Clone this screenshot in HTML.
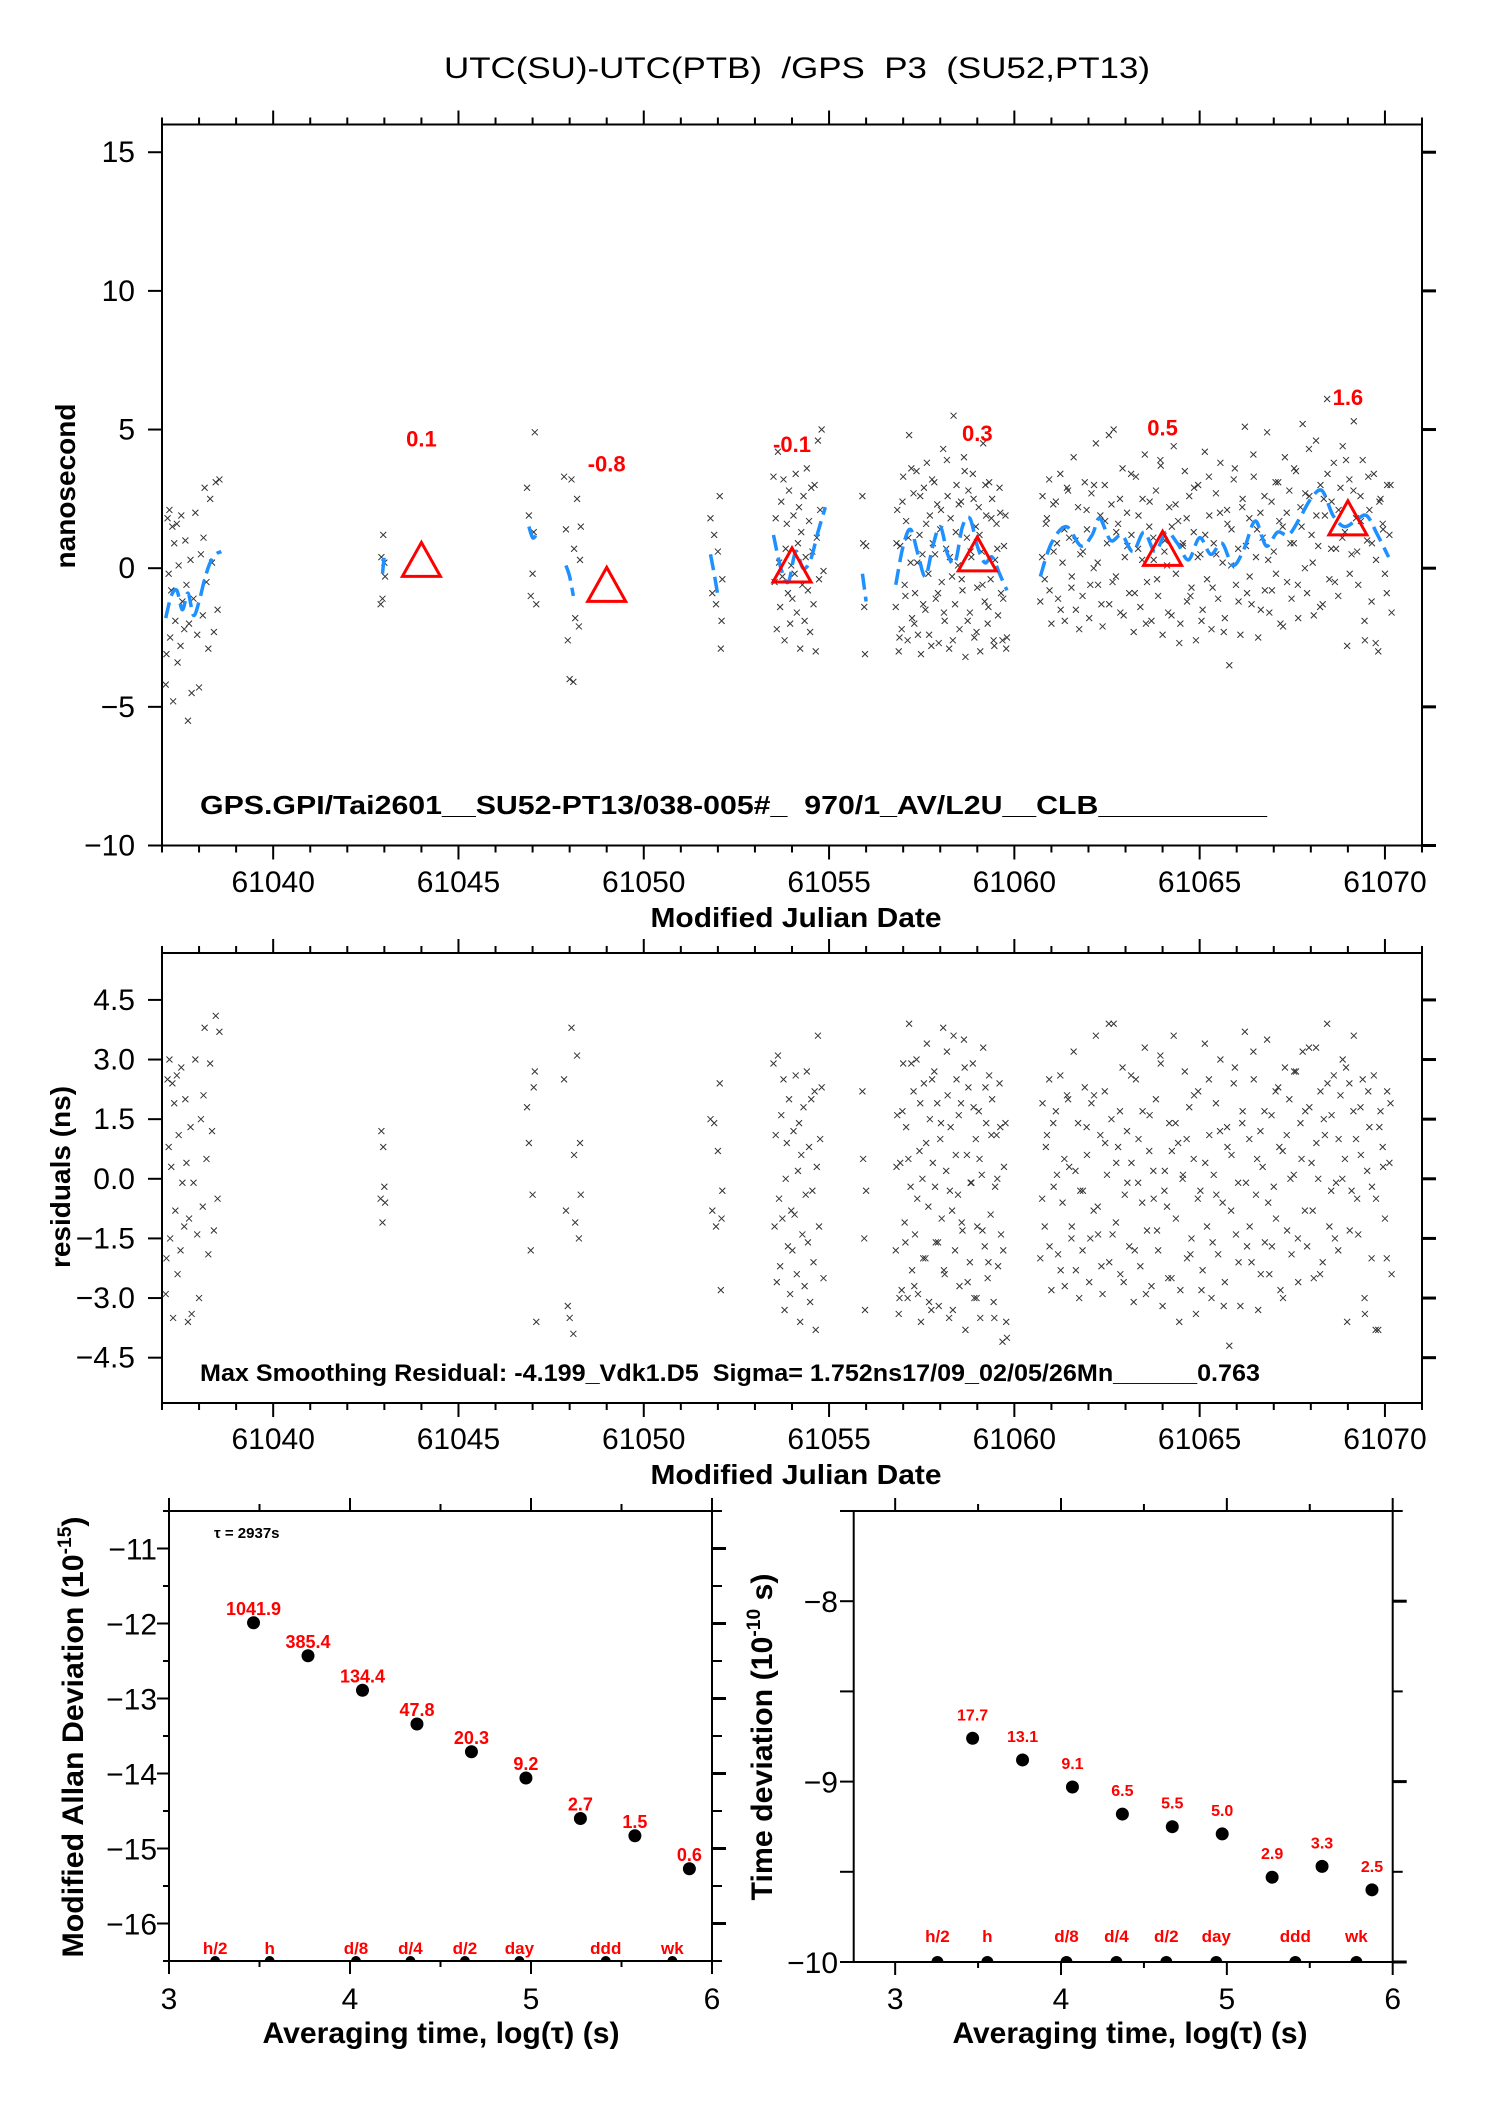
<!DOCTYPE html>
<html><head><meta charset="utf-8"><title>UTC(SU)-UTC(PTB) GPS P3</title>
<style>
html,body{margin:0;padding:0;background:#fff;}
svg{display:block;font-family:"Liberation Sans",Arial,sans-serif;}
</style></head>
<body>
<svg id="c" xmlns="http://www.w3.org/2000/svg" width="1488" height="2105" viewBox="0 0 1488 2105">
<rect x="0" y="0" width="1488" height="2105" fill="#fff"/>
<defs>
<clipPath id="clipL"><rect x="169" y="1511" width="543" height="450"/></clipPath>
<clipPath id="clipR"><rect x="853.7" y="1511" width="539" height="451"/></clipPath>
</defs>
<text x="797" y="78" font-size="30" text-anchor="middle" textLength="706" lengthAdjust="spacingAndGlyphs" xml:space="preserve">UTC(SU)-UTC(PTB)  /GPS  P3  (SU52,PT13)</text>
<text transform="translate(75,486) rotate(-90)" font-size="28" font-weight="bold" text-anchor="middle">nanosecond</text>
<text x="796" y="927" font-size="28" font-weight="bold" text-anchor="middle" textLength="291" lengthAdjust="spacingAndGlyphs">Modified Julian Date</text>
<text x="200" y="814" font-size="26" font-weight="bold" textLength="1067" lengthAdjust="spacingAndGlyphs" xml:space="preserve">GPS.GPI/Tai2601__SU52-PT13/038-005#_  970/1_AV/L2U__CLB__________</text>
<text transform="translate(70,1177) rotate(-90)" font-size="28" font-weight="bold" text-anchor="middle">residuals (ns)</text>
<text x="796" y="1484" font-size="28" font-weight="bold" text-anchor="middle" textLength="291" lengthAdjust="spacingAndGlyphs">Modified Julian Date</text>
<text x="200" y="1381" font-size="24" font-weight="bold" textLength="1060" lengthAdjust="spacingAndGlyphs" xml:space="preserve">Max Smoothing Residual: -4.199_Vdk1.D5  Sigma= 1.752ns17/09_02/05/26Mn______0.763</text>
<text transform="translate(83,1737) rotate(-90)" font-size="30" font-weight="bold" text-anchor="middle" textLength="441" lengthAdjust="spacingAndGlyphs">Modified Allan Deviation (10<tspan font-size="19" dy="-12">-15</tspan><tspan dy="12">)</tspan></text>
<text transform="translate(772,1737) rotate(-90)" font-size="30" font-weight="bold" text-anchor="middle" textLength="327" lengthAdjust="spacingAndGlyphs">Time deviation (10<tspan font-size="19" dy="-12">-10</tspan><tspan dy="12"> s)</tspan></text>
<text x="441" y="2043" font-size="30" font-weight="bold" text-anchor="middle" textLength="357" lengthAdjust="spacingAndGlyphs">Averaging time, log(τ) (s)</text>
<text x="1130" y="2043" font-size="30" font-weight="bold" text-anchor="middle" textLength="355" lengthAdjust="spacingAndGlyphs">Averaging time, log(τ) (s)</text>
<text x="214" y="1538" font-size="15" font-weight="bold">τ = 2937s</text>
</svg>
<script>
// ---------------- DATA ----------------
const MJD0 = 61000;
const mjdA=[37.10,37.12,37.15,37.18,37.20,37.22,37.25,37.28,37.30,37.33,37.36,37.40,37.42,37.45,37.50,37.52,37.55,37.60,37.63,37.66,37.70,37.73,37.77,37.80,37.85,37.90,37.95,38.00,38.05,38.10,38.12,38.15,38.20,38.25,38.30,38.35,38.40,38.45,38.50,38.55];
const nsA=[-4.2,-3.1,1.8,-0.2,2.1,-2.5,-0.8,1.5,-4.8,0.9,-1.9,1.6,-3.4,0.1,-2.8,1.9,-1.2,-2.2,1.0,-0.6,-5.5,-2.0,0.3,-4.5,-1.1,2.0,-2.4,-4.3,0.5,-1.7,1.1,2.9,-0.5,-2.9,2.5,0.2,-2.3,3.1,-1.5,3.2];
const resA=[-2.9,-2.0,2.5,0.8,3.0,-1.5,0.3,2.4,-3.5,1.9,-0.8,2.6,-2.4,1.1,-1.8,2.8,-0.1,-1.2,2.0,0.4,-3.6,-1.0,1.3,-3.4,-0.1,3.0,-1.4,-3.0,1.5,-0.7,2.1,3.8,0.5,-1.9,2.9,1.2,-1.3,4.1,-0.5,3.7];
const mjdB=[42.90,42.92,42.95,42.97,43.00,43.02];
const nsB=[-1.3,0.4,-1.1,1.2,0.2,-0.3];
const resB=[-0.5,1.2,-1.1,0.8,-0.2,-0.6];
const mjdC=[46.85,46.90,46.95,47.00,47.03,47.06,47.10];
const nsC=[2.9,1.9,-1.0,-0.2,1.3,4.9,-1.3];
const resC=[1.8,0.9,-1.8,-0.4,2.3,2.7,-3.6];
const mjdD=[47.85,47.90,47.95,48.00,48.05,48.10,48.12,48.15,48.20,48.25,48.28,48.30];
const nsD=[3.3,1.4,-2.6,-4.0,3.2,-4.1,0.7,-1.8,2.5,-2.1,0.3,1.5];
const resD=[2.5,-0.8,-3.2,-3.5,3.8,-3.9,0.6,-1.1,3.1,-1.5,0.9,-0.4];
const mjdE=[51.80,51.85,51.90,51.95,52.00,52.05,52.08,52.10,52.12];
const nsE=[1.8,-0.9,1.2,-1.3,0.6,2.6,-2.9,-1.9,-0.4];
const resE=[1.5,-0.8,1.4,-1.2,0.7,2.4,-2.8,-1.0,-0.3];
const mjdF=[53.50,53.53,53.56,53.59,53.62,53.65,53.68,53.71,53.74,53.77,53.80,53.83,53.86,53.89,53.92,53.95,53.98,54.01,54.04,54.07,54.10,54.13,54.16,54.19,54.22,54.25,54.28,54.31,54.34,54.37,54.40,54.43,54.46,54.49,54.52,54.55,54.58,54.61,54.64,54.67,54.70,54.73,54.76,54.80,54.85];
const nsF=[3.3,-0.5,1.8,-2.2,4.2,0.2,-1.4,2.4,-0.3,3.2,-2.6,0.7,1.6,-0.9,2.8,-2.0,0.1,-1.1,1.9,-0.2,3.4,-1.6,0.9,2.2,-2.9,1.3,-0.6,2.6,-1.9,0.4,3.6,-0.8,1.7,-2.3,2.9,0.6,-1.3,3.0,-3.0,1.1,4.6,-0.4,2.1,5.0,-0.1];
const resF=[2.9,-1.2,1.1,-2.6,3.1,-0.5,-2.2,1.6,-1.0,2.5,-3.3,0.0,0.9,-1.7,2.0,-2.9,-0.8,-1.8,1.2,-0.9,2.6,-2.4,0.2,1.4,-3.6,0.6,-1.4,1.8,-2.7,-0.4,2.7,-1.6,0.8,-3.1,2.0,-0.3,-2.1,2.2,-3.8,0.3,3.6,-1.2,1.0,2.3,-2.5];
const mjdG=[55.90,55.92,55.95,55.97,56.00];
const nsG=[2.6,0.9,-1.4,-3.1,0.8];
const resG=[2.2,0.5,-1.5,-3.3,-0.3];
const mjdH=[56.80,56.84,56.88,56.92,56.96,57.00,57.04,57.08,57.12,57.16,57.20,57.24,57.28,57.32,57.36,57.40,57.44,57.48,57.52,57.56,57.60,57.64,57.68,57.72,57.76,57.80,57.84,57.88,57.92,57.96,58.00,58.04,58.08,58.12,58.16,58.20,58.24,58.28,58.32,58.36,58.40,58.44,58.48,58.52,58.56,58.60,58.64,58.68,58.72,58.76,58.80,58.84,58.88,58.92,58.96,59.00,59.04,59.08,59.12,59.16,59.20,59.24,59.28,59.32,59.36,59.40,59.44,59.48,59.52,59.56,59.60,59.64,59.68,59.72,59.76,59.80];
const nsH=[-1.4,2.1,-3.0,0.8,-2.2,3.3,-0.6,1.7,-2.6,4.8,0.2,-1.8,2.7,-0.9,3.5,-2.4,1.2,-3.1,0.5,2.9,-1.5,3.8,-0.2,1.9,-2.8,0.9,3.1,-1.1,2.3,-2.7,1.4,-0.5,4.3,-1.9,0.7,2.6,-2.9,1.8,-0.3,5.5,-1.3,3.0,0.1,-2.2,2.4,-0.8,4.0,-3.2,1.1,2.8,-1.6,0.4,3.4,-2.5,1.5,-0.7,2.2,-3.0,0.6,4.5,-1.2,1.9,-2.0,3.1,-0.4,2.5,-2.6,0.3,1.6,-1.7,2.9,-0.9,-2.6,0.8,1.9,-2.5];
const resH=[-1.8,1.6,-3.4,0.4,-2.8,2.9,-1.1,1.3,-3.0,3.9,-0.2,-2.3,2.2,-1.4,3.0,-2.9,0.7,-3.6,0.0,2.4,-2.0,3.4,-0.7,1.5,-3.3,0.4,2.7,-1.6,1.9,-3.2,1.0,-1.0,3.8,-2.4,0.2,2.1,-3.5,1.3,-0.8,3.6,-1.8,2.5,-0.4,-2.7,1.9,-1.3,3.5,-3.8,0.6,2.3,-2.1,-0.1,2.9,-3.0,1.0,-1.2,1.7,-3.5,0.1,3.3,-1.7,1.4,-2.5,2.6,-0.9,2.0,-3.1,-0.2,1.1,-2.2,2.4,-1.4,-4.1,0.3,1.4,-4.0];
const mjdH2=[56.82,56.90,56.98,57.06,57.14,57.22,57.30,57.38,57.46,57.54,57.62,57.70,57.78,57.86,57.94,58.02,58.10,58.18,58.26,58.34,58.42,58.50,58.58,58.66,58.74,58.82,58.90,58.98,59.06,59.14,59.22,59.30,59.38,59.46,59.54,59.62,59.70,59.78];
const nsH2=[0.9,-2.5,2.4,-1.0,1.1,3.6,-2.0,0.2,2.6,-1.3,1.6,-2.4,3.2,0.5,-0.9,2.1,-1.6,3.9,0.4,-2.6,1.3,2.3,-0.4,3.5,-1.9,0.6,2.5,-2.3,1.2,-0.6,3.0,-1.4,1.8,-2.8,0.7,2.0,-1.1,-2.9];
const resH2=[0.3,-3.0,1.7,-1.6,0.5,2.9,-2.7,-0.5,1.9,-2.0,0.9,-3.1,2.5,-0.2,-1.6,1.4,-2.3,3.2,-0.3,-3.3,0.6,1.6,-1.1,2.8,-2.6,-0.1,1.8,-3.0,0.5,-1.3,2.3,-2.1,1.1,-3.5,0.0,1.3,-1.8,-3.6];
const mjdI=[60.70,60.76,60.82,60.88,60.94,61.00,61.06,61.12,61.18,61.24,61.30,61.36,61.42,61.48,61.54,61.60,61.66,61.72,61.78,61.84,61.90,61.96,62.02,62.08,62.14,62.20,62.26,62.32,62.38,62.44,62.50,62.56,62.62,62.68,62.74,62.80,62.86,62.92,62.98,63.04,63.10,63.16,63.22,63.28,63.34,63.40,63.46,63.52,63.58,63.64,63.70,63.76,63.82,63.88,63.94,64.00,64.06,64.12,64.18,64.24,64.30,64.36,64.42,64.48,64.54,64.60,64.66,64.72,64.78,64.84,64.90,64.96,65.02,65.08,65.14,65.20,65.26,65.32,65.38,65.44,65.50,65.56,65.62,65.68,65.74,65.80,65.86,65.92,65.98,66.04,66.10,66.16,66.22,66.28,66.34,66.40,66.46,66.52,66.58,66.64,66.70,66.76,66.82,66.88,66.94,67.00,67.06,67.12,67.18,67.24,67.30,67.36,67.42,67.48,67.54,67.60,67.66,67.72,67.78,67.84,67.90,67.96,68.02,68.08,68.14,68.20,68.26,68.32,68.38,68.44,68.50,68.56,68.62,68.68,68.74,68.80,68.86,68.92,68.98,69.04,69.10,69.16,69.22,69.28,69.34,69.40,69.46,69.52,69.58,69.64,69.70,69.76,69.82,69.88,69.94,70.00,70.06,70.12,70.18];
const nsI=[-1.2,2.6,-0.4,1.8,3.2,-2.0,0.6,2.4,-1.1,3.4,0.2,-1.9,2.9,1.1,-0.7,4.0,-1.5,2.2,0.5,-1.0,
3.1,1.4,-1.8,2.7,0.0,4.5,-0.6,1.9,-2.1,3.0,0.9,-1.3,2.3,5.0,-0.3,1.6,-1.6,3.6,0.4,2.0,
-0.9,1.2,-2.3,3.3,0.7,-1.4,2.5,4.1,-0.5,1.5,-1.9,0.3,2.8,-1.0,3.9,-2.4,1.0,0.1,2.2,-1.7,
4.4,-0.2,1.7,-2.0,0.8,3.5,-1.2,2.6,-0.7,1.3,-2.6,3.0,0.5,-1.5,4.2,-0.4,1.9,-2.2,0.9,2.7,
-1.1,3.8,0.2,-1.8,2.1,-3.5,1.4,3.2,-0.6,0.7,-2.4,2.5,5.1,-0.9,1.8,-1.3,3.3,0.4,-2.5,2.0,
1.1,-0.8,4.9,-1.6,2.4,0.6,-0.2,3.1,-2.0,1.5,4.0,-0.5,2.8,-1.1,0.9,3.5,-1.8,2.2,5.2,0.0,
-0.9,2.6,1.2,-1.7,4.6,0.8,3.0,-1.3,1.9,6.1,-0.4,2.4,3.8,0.7,-1.0,2.9,4.4,1.3,-2.8,3.2,
0.5,5.3,1.8,-0.6,2.6,3.9,-2.6,1.0,2.1,-1.2,3.4,0.3,-3.0,2.5,1.6,-0.2,3.0,1.2,-1.6];
const resI=[-2.0,1.9,-1.2,1.1,2.5,-2.8,-0.2,1.7,-1.9,2.6,-0.6,-2.7,2.1,0.3,-1.5,3.2,-2.3,1.4,-0.3,-1.8,
2.3,0.6,-2.6,1.9,-0.8,3.6,-1.4,1.1,-2.9,2.2,0.1,-2.1,1.5,3.9,-1.1,0.8,-2.4,2.8,-0.4,1.2,
-1.7,0.4,-3.1,2.5,-0.1,-2.2,1.7,3.3,-1.3,0.7,-2.7,-0.5,2.0,-1.8,3.1,-3.2,0.2,-0.7,1.4,-2.5,
3.6,-1.0,0.9,-2.8,0.0,2.7,-2.0,1.8,-1.5,0.5,-3.4,2.2,-0.3,-2.3,3.4,-1.2,1.1,-3.0,0.1,1.9,
-1.9,3.0,-0.6,-2.6,1.3,-4.2,0.6,2.4,-1.4,-0.1,-3.2,1.7,3.7,-1.7,1.0,-2.1,2.5,-0.4,-3.3,1.2,
0.3,-1.6,3.5,-2.4,1.6,-0.2,-1.0,2.3,-2.8,0.7,2.8,-1.3,2.0,-1.9,0.1,2.7,-2.6,1.4,3.2,-0.8,
-1.7,1.8,0.4,-2.5,3.3,0.0,2.2,-2.1,1.1,3.9,-1.2,1.6,2.6,-0.1,-1.8,2.1,3.0,0.5,-3.6,2.4,
-0.3,3.6,1.0,-1.4,1.8,2.5,-3.4,0.2,1.3,-2.0,2.6,-0.5,-3.8,1.7,0.8,-1.0,2.2,0.4,-2.4];
const mjdI2=[60.75,60.85,60.95,61.05,61.15,61.25,61.35,61.45,61.55,61.65,61.75,61.85,61.95,62.05,62.15,62.25,62.35,62.45,62.55,62.65,62.75,62.85,62.95,63.05,63.15,63.25,63.35,63.45,63.55,63.65,63.75,63.85,63.95,64.05,64.15,64.25,64.35,64.45,64.55,64.65,64.75,64.85,64.95,65.05,65.15,65.25,65.35,65.45,65.55,65.65,65.75,65.85,65.95,66.05,66.15,66.25,66.35,66.45,66.55,66.65,66.75,66.85,66.95,67.05,67.15,67.25,67.35,67.45,67.55,67.65,67.75,67.85,67.95,68.05,68.15,68.25,68.35,68.45,68.55,68.65,68.75,68.85,68.95,69.05,69.15,69.25,69.35,69.45,69.55,69.65,69.75,69.85,69.95,70.05,70.15];
const nsI2=[0.4,1.6,-0.8,2.3,0.9,-1.5,1.4,2.8,-0.3,1.0,
-2.2,0.6,2.1,-0.6,3.0,0.2,-1.3,1.7,4.8,-0.5,
1.3,2.5,-1.7,0.8,3.4,-0.9,1.9,0.3,-2.0,2.4,
1.1,-0.4,3.7,0.6,-1.6,1.5,2.3,-2.7,0.9,1.8,
-1.0,2.9,0.4,-1.9,1.2,3.3,-0.7,0.5,2.0,-2.3,
1.6,0.1,3.6,-1.2,2.2,0.8,-0.3,4.1,1.4,-1.5,
2.6,0.3,-0.8,3.1,1.7,-2.1,2.0,0.9,3.6,-0.6,
1.5,2.7,4.3,0.2,1.9,-1.4,2.5,3.4,0.7,-0.5,
2.1,1.1,3.9,-0.2,2.8,0.6,1.7,-1.9,3.3,0.9,
-2.7,2.4,1.4,-0.9,3.0];
const resI2=[-0.5,0.8,-1.7,1.4,0.1,-2.3,0.5,2.0,-1.2,0.2,
-3.0,-0.3,1.3,-1.5,2.1,-0.7,-2.2,0.9,3.9,-1.4,
0.4,1.7,-2.6,-0.1,2.6,-1.8,1.0,-0.6,-2.9,1.6,
0.2,-1.3,2.9,-0.3,-2.5,0.7,1.4,-3.6,0.1,1.0,
-1.9,2.1,-0.5,-2.8,0.4,2.5,-1.6,-0.4,1.2,-3.2,
0.8,-0.8,2.8,-2.1,1.4,-0.1,-1.2,3.2,0.5,-2.4,
1.7,-0.6,-1.7,2.2,0.8,-3.0,1.1,0.0,2.7,-1.5,
0.5,1.7,3.3,-0.8,0.9,-2.4,1.5,2.4,-0.3,-1.5,
1.0,0.0,2.8,-1.3,1.7,-0.5,0.6,-3.0,2.2,-0.2,
-3.8,1.3,0.3,-2.0,1.9];
const clusters=[[mjdA,nsA,resA],[mjdB,nsB,resB],[mjdC,nsC,resC],[mjdD,nsD,resD],[mjdE,nsE,resE],[mjdF,nsF,resF],[mjdG,nsG,resG],[mjdH,nsH,resH],[mjdH2,nsH2,resH2],[mjdI,nsI,resI],[mjdI2,nsI2,resI2]];

const smoothMjd=[[37.1,37.25,37.4,37.55,37.7,37.85,38.0,38.15,38.3,38.45,38.6],[42.95,43.0],[46.9,47.0,47.1],[47.9,48.0,48.1],[51.8,51.9,52.0],[53.5,53.7,53.9,54.1,54.3,54.5,54.7,54.9],[55.9,56.0],
[56.8,57.0,57.2,57.4,57.6,57.8,58.0,58.2,58.4,58.6,58.8,59.0,59.2,59.4,59.6,59.8],
[60.7,61.0,61.4,61.8,62.1,62.3,62.6,62.9,63.2,63.5,63.8,64.1,64.4,64.7,65.0,65.3,65.6,65.9,66.2,66.5,66.8,67.1,67.4,67.7,68.0,68.3,68.6,68.9,69.2,69.5,69.8,70.1]];
const smoothNs=[[-1.8,-1.0,-0.8,-1.5,-0.9,-1.7,-1.2,-0.4,0.2,0.5,0.6],[-0.2,0.5],[1.5,1.1,1.2],[0.1,-0.3,-1.0],[0.5,-0.2,-1.0],[1.2,0.0,-0.5,0.6,0.0,0.3,1.3,2.2],[-0.2,-1.2],
[-0.6,0.8,1.4,0.5,-0.3,0.8,1.5,0.5,0.2,1.5,1.8,0.8,0.2,0.4,-0.2,-0.8],
[-0.3,0.9,1.5,0.8,1.2,1.8,1.0,1.2,0.6,1.3,0.6,1.3,0.9,0.3,1.1,0.5,0.9,0.1,0.7,1.7,0.8,1.3,1.2,1.8,2.5,2.8,1.9,1.5,1.7,1.9,1.2,0.4]];

const meanMjd=[61044,61049,61054,61059,61064,61069];
const meanNs=[0.1,-0.8,-0.1,0.3,0.5,1.6];
const meanLabels=["0.1","-0.8","-0.1","0.3","0.5","1.6"];

const mjdMajorTicks=[61040,61045,61050,61055,61060,61065,61070];
const nsTicks=[15,10,5,0,-5,-10];
const nsTickLabels=["15","10","5","0","\u22125","\u221210"];
const resTicks=[4.5,3.0,1.5,0.0,-1.5,-3.0,-4.5];
const resTickLabels=["4.5","3.0","1.5","0.0","\u22121.5","\u22123.0","\u22124.5"];

const logTau=[3.467,3.768,4.069,4.370,4.671,4.972,5.273,5.574,5.875];
const mdevLog=[-11.99,-12.43,-12.89,-13.34,-13.71,-14.06,-14.60,-14.83,-15.27];
const mdevLabels=["1041.9","385.4","134.4","47.8","20.3","9.2","2.7","1.5","0.6"];
const tdevLog=[-8.76,-8.88,-9.03,-9.18,-9.25,-9.29,-9.53,-9.47,-9.60];
const tdevLabels=["17.7","13.1","9.1","6.5","5.5","5.0","2.9","3.3","2.5"];
const markerLog=[3.255,3.556,4.033,4.334,4.635,4.936,5.413,5.781];
const markerLabels=["h/2","h","d/8","d/4","d/2","day","ddd","wk"];
const mdevTicks=[-11,-12,-13,-14,-15,-16];
const tdevTicks=[-8,-9,-10];
const logTicks=[3,4,5,6];

// ---------------- SCALES ----------------
const NS='http://www.w3.org/2000/svg';
const svg=document.getElementById('c');
function lin(d0,d1,p0,p1){return v=>p0+(v-d0)*(p1-p0)/(d1-d0);}
const x1=lin(61037.0,61071.0,162,1422);
const y1=lin(-10,16,845.5,124.5);
const y2=lin(-5.64,5.68,1403,953);
const xL=lin(3,6,169,712);
const yL=lin(-16.5,-10.5,1961,1511);
const xR=lin(2.75,6,853.7,1392.7);
const yR=lin(-10,-7.5,1962,1511);
function mk(tag,attrs,parent){const e=document.createElementNS(NS,tag);for(const k in attrs)e.setAttribute(k,attrs[k]);(parent||svg).appendChild(e);return e;}
function line(x1_,y1_,x2_,y2_,w,name,parent){
  const l=mk('line',{x1:x1_,y1:y1_,x2:x2_,y2:y2_,stroke:'#000','stroke-width':w},parent);
  
  
  return l;
}
function txt(x,y,s,size,anchor,extra,name){
  const t=mk('text',Object.assign({x:x,y:y,'font-size':size,'text-anchor':anchor},extra||{}));
  t.textContent=s;
  
  
  return t;
}
function frame(x,y,w,h,name){
  const r=mk('rect',{x:x,y:y,width:w,height:h,fill:'none',stroke:'#000','stroke-width':2});
  
  
}

function mjdAxis(top,bottom,labelY,prefix){
  for(let d=61037;d<=61071;d++){
    const x=x1(d); const major=(d%5===0);
    const L=major?14:7;
    line(x,top,x,top-L,2,prefix+'-top-tick');
    line(x,bottom,x,bottom+L,2,prefix+'-bottom-tick');
  }
  mjdMajorTicks.forEach(v=>{txt(x1(v),labelY,String(v),30,'middle',null,prefix+'-x-tick-label');});
}
frame(162,124.5,1260,721,'offset-plot-frame');
mjdAxis(124.5,845.5,892,'offset');
nsTicks.forEach((v,i)=>{
  const y=y1(v);
  line(148,y,162,y,2,'offset-y-tick');
  line(1422,y,1436,y,3,'offset-y-tick-right');
  txt(135,y+10,nsTickLabels[i],30,'end',null,'offset-y-tick-label');
});
frame(162,953,1260,450,'residual-plot-frame');
mjdAxis(953,1403,1449,'residual');
resTicks.forEach((v,i)=>{
  const y=y2(v);
  line(148,y,162,y,2,'residual-y-tick');
  line(1422,y,1436,y,3,'residual-y-tick-right');
  txt(135,y+10,resTickLabels[i],30,'end',null,'residual-y-tick-label');
});

const gPts=mk('g',{stroke:'#333','stroke-width':1,fill:'none'});


const gRes=mk('g',{stroke:'#333','stroke-width':1,fill:'none'});


function cross(x,y,parent,name){
  const p=mk('path',{d:`M${x-3},${y-3}L${x+3},${y+3}M${x-3},${y+3}L${x+3},${y-3}`},parent);
  
  
}
clusters.forEach(c=>{
  const [m,v,r]=c;
  const n=Math.min(m.length,v.length,r.length);
  for(let i=0;i<n;i++){
    cross(x1(MJD0+m[i]),y1(v[i]),gPts,'offset-point');
    cross(x1(MJD0+m[i]),y2(r[i]),gRes,'residual-point');
  }
});

function smoothPath(pts){
  if(pts.length<2)return '';
  let d=`M${pts[0][0]},${pts[0][1]}`;
  for(let i=0;i<pts.length-1;i++){
    const p0=pts[Math.max(0,i-1)],p1=pts[i],p2=pts[i+1],p3=pts[Math.min(pts.length-1,i+2)];
    const c1=[p1[0]+(p2[0]-p0[0])/6,p1[1]+(p2[1]-p0[1])/6];
    const c2=[p2[0]-(p3[0]-p1[0])/6,p2[1]-(p3[1]-p1[1])/6];
    d+=`C${c1[0]},${c1[1]} ${c2[0]},${c2[1]} ${p2[0]},${p2[1]}`;
  }
  return d;
}
smoothMjd.forEach((seg,k)=>{
  const vals=smoothNs[k];
  const pts=seg.map((m,i)=>[x1(MJD0+m),y1(vals[i])]);
  const p=mk('path',{d:smoothPath(pts),fill:'none',stroke:'#1e90ff','stroke-width':3.5,'stroke-dasharray':'16 7'});
  
  
});

meanMjd.forEach((m,i)=>{
  const x=x1(m),y=y1(meanNs[i]);
  const t=mk('polygon',{points:`${x},${y-23} ${x-19},${y+11} ${x+19},${y+11}`,fill:'none',stroke:'#f00','stroke-width':3});
  
  
  txt(x,y-119,meanLabels[i],22,'middle',{fill:'#f00','font-weight':'bold'},'mean-label');
});

frame(169,1511,543,450,'mdev-plot-frame');
for(let v=3;v<=6.001;v+=0.5){
  const x=xL(v),major=Math.abs(v-Math.round(v))<1e-6;
  line(x,1511,x,1511-(major?13:7),2,'mdev-top-tick');
  line(x,1961,x,1961+(major?13:6),2,'mdev-bottom-tick');
}
logTicks.forEach(v=>txt(xL(v),2009,String(v),30,'middle',null,'mdev-x-tick-label'));
for(let v=-16.5;v<=-10.5;v+=0.5){
  const y=yL(v),major=Math.abs(v-Math.round(v))<1e-6;
  line(169,y,169-(major?12:6),y,2,'mdev-y-tick');
  line(712,y,712+(major?14:10),y,major?3:2,'mdev-y-tick-right');
}
mdevTicks.forEach(v=>txt(157,yL(v)+11,'\u2212'+Math.abs(v),30,'end',null,'mdev-y-tick-label'));
const gLc=mk('g',{'clip-path':'url(#clipL)'});


markerLog.forEach((v,i)=>{
  const c=mk('circle',{cx:xL(v),cy:1961,r:5,fill:'#000'},gLc);
  
  
  txt(xL(v),1954,markerLabels[i],17,'middle',{fill:'#f00','font-weight':'bold'},'mdev-interval-label');
});
logTau.forEach((v,i)=>{
  const c=mk('circle',{cx:xL(v),cy:yL(mdevLog[i]),r:6.5,fill:'#000'});
  
  
  txt(xL(v),yL(mdevLog[i])-8,mdevLabels[i],18,'middle',{fill:'#f00','font-weight':'bold'},'mdev-value-label');
});

frame(853.7,1511,539,451,'tdev-plot-frame');
for(let v=3;v<=6.001;v+=0.5){
  const x=xR(v),major=Math.abs(v-Math.round(v))<1e-6;
  line(x,1511,x,1511-(major?13:7),2,'tdev-top-tick');
  line(x,1962,x,1962+(major?13:6),2,'tdev-bottom-tick');
}
logTicks.forEach(v=>txt(xR(v),2009,String(v),30,'middle',null,'tdev-x-tick-label'));
for(let v=-10;v<=-7.5;v+=0.5){
  const y=yR(v),major=Math.abs(v-Math.round(v))<1e-6;
  line(853.7,y,840,y,2,'tdev-y-tick');
  line(1392.7,y,1392.7+(major?14:10),y,major?3:2,'tdev-y-tick-right');
}
tdevTicks.forEach(v=>txt(838,yR(v)+11,'\u2212'+Math.abs(v),30,'end',null,'tdev-y-tick-label'));
const gRc=mk('g',{'clip-path':'url(#clipR)'});


markerLog.forEach((v,i)=>{
  const c=mk('circle',{cx:xR(v),cy:1962,r:6,fill:'#000'},gRc);
  
  
  txt(xR(v),1942,markerLabels[i],17,'middle',{fill:'#f00','font-weight':'bold'},'tdev-interval-label');
});
logTau.forEach((v,i)=>{
  const c=mk('circle',{cx:xR(v),cy:yR(tdevLog[i]),r:6.5,fill:'#000'});
  
  
  txt(xR(v),yR(tdevLog[i])-18,tdevLabels[i],16,'middle',{fill:'#f00','font-weight':'bold'},'tdev-value-label');
});
</script>
</body></html>
